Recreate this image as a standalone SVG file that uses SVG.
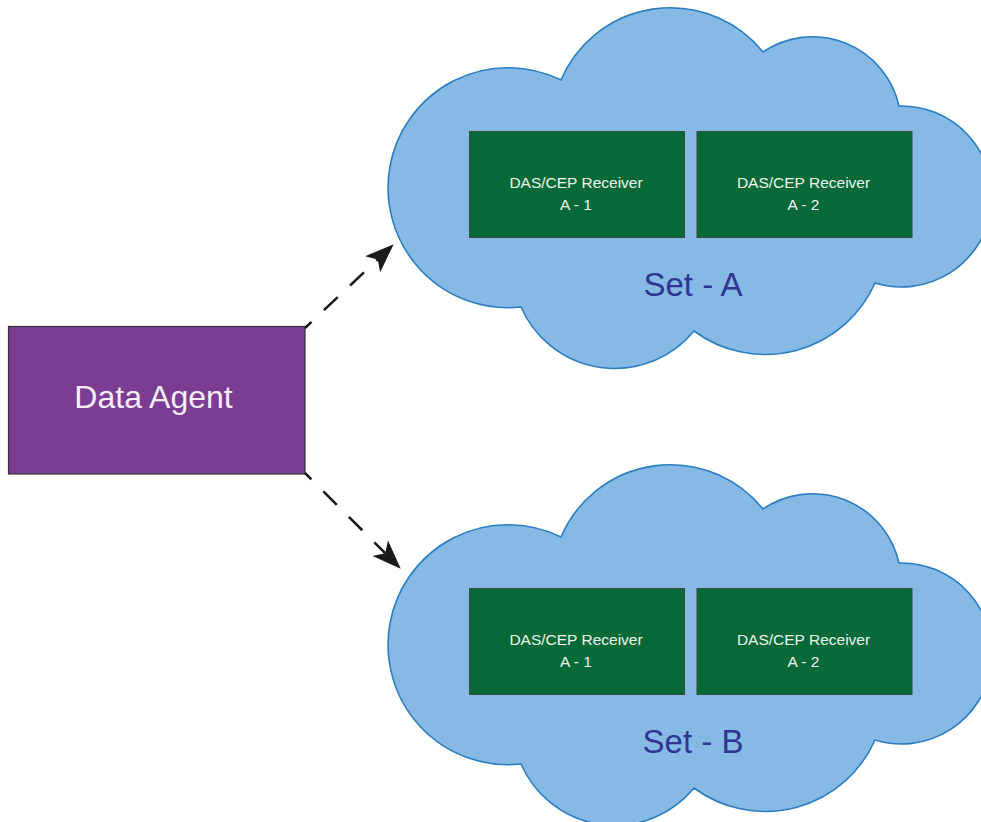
<svg xmlns="http://www.w3.org/2000/svg" width="981" height="822" viewBox="0 0 981 822">
  <style>
    .cloud { fill: #86b9e4; stroke: #2a7dc2; stroke-width: 1.6; }
    .recv { fill: #066a38; stroke: #3b4a42; stroke-width: 1; }
    .recv-t { font-family: "Liberation Sans", Arial, sans-serif; font-size: 15.5px; fill: #f2f2ec; text-anchor: middle; }
    .set-t { font-family: "Liberation Sans", Arial, sans-serif; font-size: 33px; fill: #2e3592; text-anchor: middle; }
    .agent { fill: #7b3c94; stroke: #333333; stroke-width: 1.2; }
    .agent-t { font-family: "Liberation Sans", Arial, sans-serif; font-size: 32px; fill: #f6eef6; text-anchor: middle; }
    .conn { fill: none; stroke: #1a1a1a; stroke-width: 2.6; stroke-dasharray: 19 17; stroke-dashoffset: 10; }
  </style>
  <defs>
    <path id="cloudShape" d="M 561 80 A 119 119 0 0 1 763 52 A 88.5 88.5 0 0 1 899 106 A 90.5 90.5 0 1 1 875 283 A 120 120 0 0 1 694 331 A 102.4 102.4 0 0 1 521 307 A 120 120 0 1 1 561 80 Z"/>
    <marker id="arrow" markerUnits="userSpaceOnUse" markerWidth="30" markerHeight="24" refX="0" refY="0" orient="auto" overflow="visible">
      <path d="M 22 0 L -7 -11 L 0 0 L -7 11 Z" fill="#1a1a1a"/>
    </marker>
  </defs>

  <g id="set-a">
    <use href="#cloudShape" class="cloud"/>
    <text class="set-t" x="693" y="296">Set - A</text>
  </g>
  <g id="recv-a1">
    <rect class="recv" x="469.5" y="131.5" width="215" height="106"/>
    <text class="recv-t" x="576" y="188">DAS/CEP Receiver</text>
    <text class="recv-t" x="576" y="210">A - 1</text>
  </g>
  <g id="recv-a2">
    <rect class="recv" x="697" y="131.5" width="215" height="106"/>
    <text class="recv-t" x="803.5" y="188">DAS/CEP Receiver</text>
    <text class="recv-t" x="803.5" y="210">A - 2</text>
  </g>

  <g id="set-b">
    <use href="#cloudShape" class="cloud" transform="translate(0,457)"/>
    <text class="set-t" x="693" y="753">Set - B</text>
  </g>
  <g id="recv-b1">
    <rect class="recv" x="469.5" y="588.5" width="215" height="106"/>
    <text class="recv-t" x="576" y="645">DAS/CEP Receiver</text>
    <text class="recv-t" x="576" y="667">A - 1</text>
  </g>
  <g id="recv-b2">
    <rect class="recv" x="697" y="588.5" width="215" height="106"/>
    <text class="recv-t" x="803.5" y="645">DAS/CEP Receiver</text>
    <text class="recv-t" x="803.5" y="667">A - 2</text>
  </g>

  <g id="data-agent">
    <rect class="agent" x="8.5" y="326.5" width="296.5" height="147.5"/>
    <text class="agent-t" x="153.5" y="408">Data Agent</text>
  </g>

  <g id="connectors">
    <path class="conn" d="M 305 328 L 377.7 259.4" marker-end="url(#arrow)"/>
    <path class="conn" d="M 305 473 L 385.2 553.2" marker-end="url(#arrow)"/>
  </g>
</svg>
